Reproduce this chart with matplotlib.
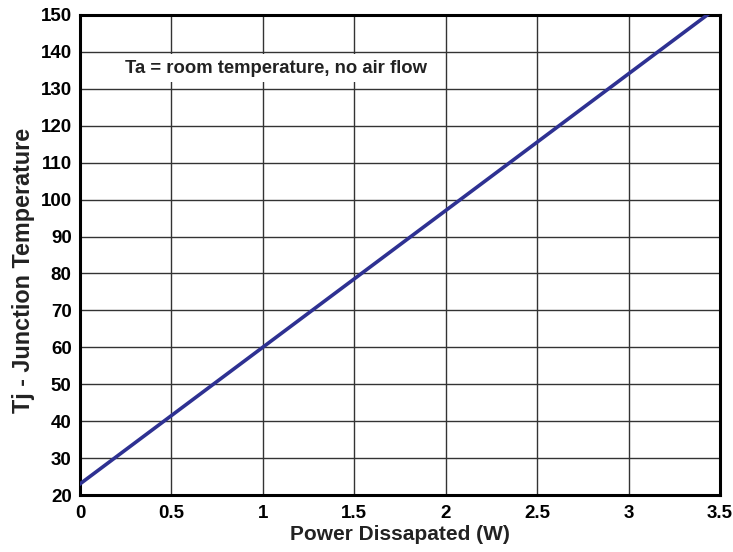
import matplotlib
matplotlib.use("Agg")
import matplotlib.pyplot as plt

power_w = [0.0, 3.43]
tj_c = [23.0, 150.0]
x_ticks = [0, 0.5, 1, 1.5, 2, 2.5, 3, 3.5]
x_tick_labels = ["0", "0.5", "1", "1.5", "2", "2.5", "3", "3.5"]
y_ticks = list(range(20, 151, 10))

plt.rcParams['font.family'] = ['Liberation Sans', 'DejaVu Sans']
plt.rcParams['font.weight'] = 'bold'

fig = plt.figure(figsize=(7.33, 5.52), dpi=100)
ax = fig.add_axes([80/733, 57/552, 640/733, 480/552])

ax.plot(power_w, tj_c, color='#2e3192', lw=2.6, zorder=3, clip_on=True)
ax.set_xlim(0, 3.5)
ax.set_ylim(20, 150)
ax.set_xticks(x_ticks)
ax.set_xticklabels(x_tick_labels)
ax.set_yticks(y_ticks)
ax.grid(True, color='#333333', lw=1.0)
ax.set_axisbelow(True)
ax.tick_params(length=0, labelsize=13.5, colors='black')
ax.tick_params(axis='y', pad=6)
ax.tick_params(axis='x', pad=7)
for lab in ax.get_xticklabels() + ax.get_yticklabels():
    lab.set_fontweight('bold')
for s in ax.spines.values():
    s.set_linewidth(2.2)
    s.set_color('black')

ax.set_xlabel('Power Dissapated (W)', fontsize=15, fontweight='bold', labelpad=2, color='#222222')
ax.set_ylabel('Tj - Junction Temperature', fontsize=16.8, fontweight='bold', color='#222222')
ax.yaxis.label.set_va('center')
ax.yaxis.set_label_coords((24 - 80) / 640, (495 - 270) / 480)

ax.text(0.245, 135.6, 'Ta = room temperature, no air flow', fontsize=13.3, fontweight='bold',
        color='#222222', va='center', ha='left',
        bbox=dict(facecolor='white', edgecolor='none', pad=4), zorder=4)

fig.savefig('out.png', dpi=100)
